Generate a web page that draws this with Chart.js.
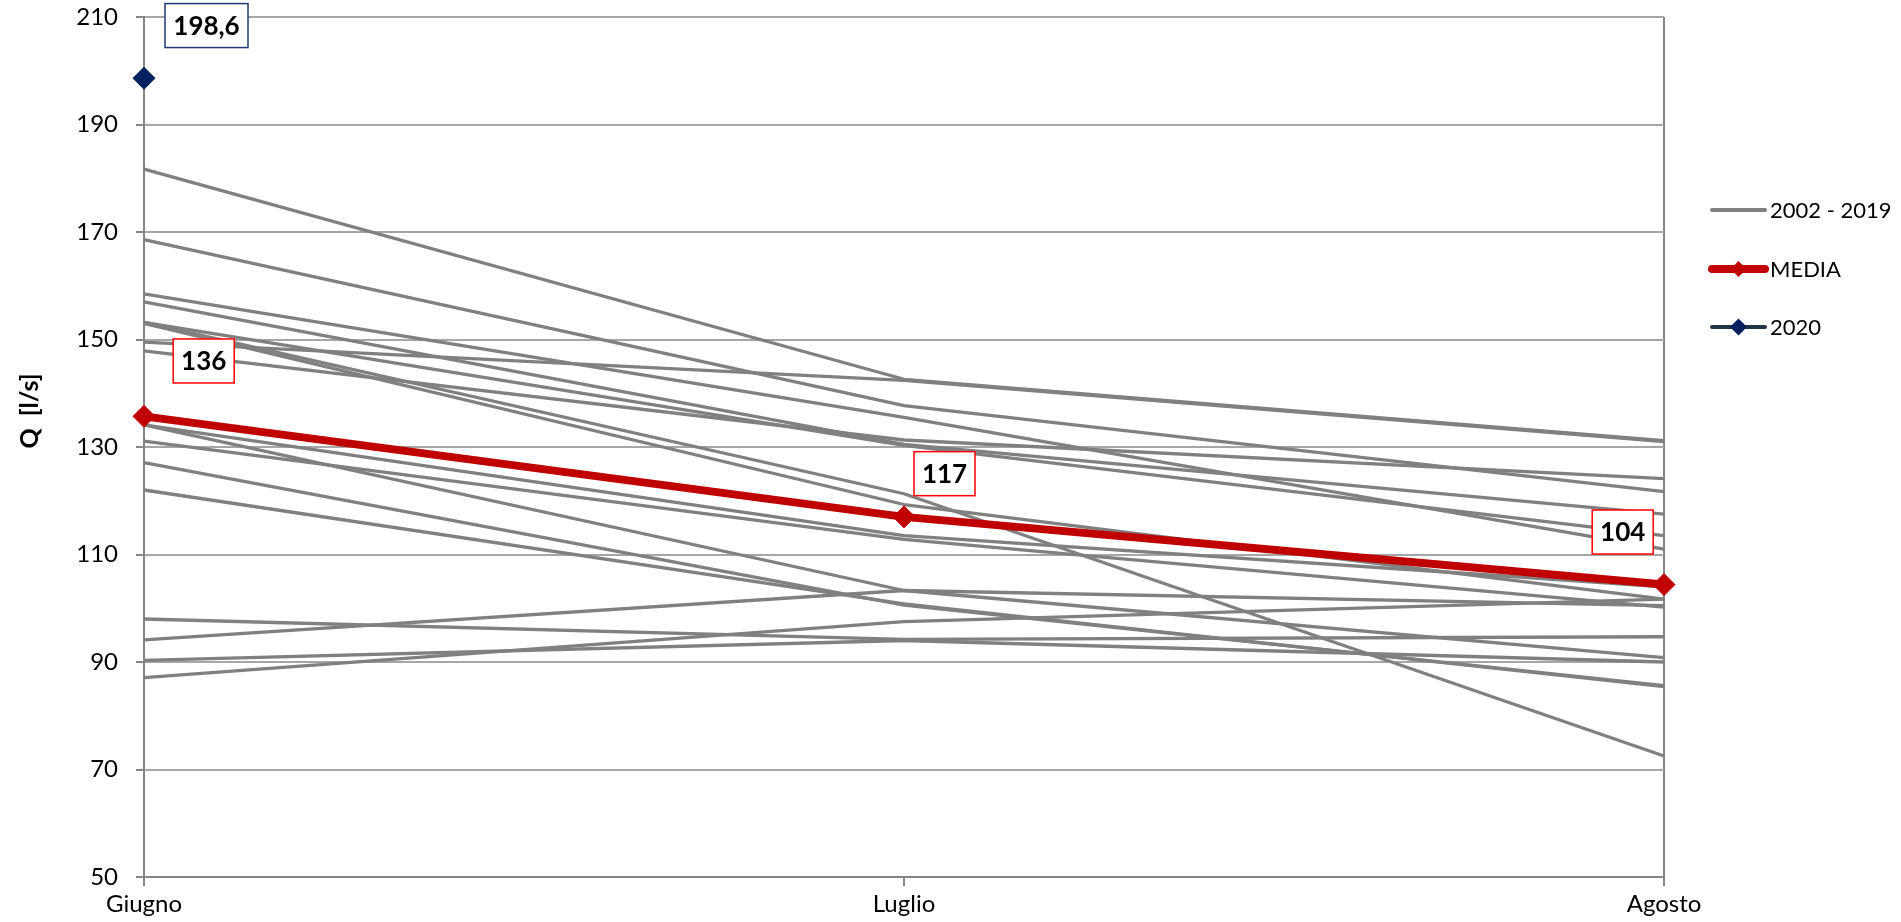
<!DOCTYPE html>
<html>
<head>
<meta charset="utf-8">
<script src="https://cdn.jsdelivr.net/npm/chart.js@4/dist/chart.umd.min.js"></script>
<style>
html,body{margin:0;padding:0;background:#fff;}
#wrap{width:1901px;height:922px;position:relative;}
</style>
</head>
<body>
<div id="wrap"><canvas id="c" width="1901" height="922"></canvas></div>
<script>
// ---- DATA ----
const categories = ['Giugno', 'Luglio', 'Agosto'];
const yTicks = [50, 70, 90, 110, 130, 150, 170, 190, 210];

// 2002 - 2019 (one series per year)
const serie01 = [181.7, 142.6, 131.2];
const serie02 = [149.5, 142.4, 131.0];
const serie03 = [168.6, 137.7, 121.7];
const serie04 = [147.9, 131.3, 124.1];
const serie05 = [158.5, 135.5, 111.0];
const serie06 = [157.0, 130.5, 117.5];
const serie07 = [153.2, 130.3, 113.5];
const serie08 = [153.2, 121.3, 72.5];
const serie09 = [153.0, 119.3, 101.7];
const serie10 = [134.1, 113.5, 104.0];
const serie11 = [131.1, 112.8, 100.2];
const serie12 = [134.1, 103.3, 90.8];
const serie13 = [94.1, 103.3, 100.5];
const serie14 = [127.1, 100.6, 85.6];
const serie15 = [122.0, 100.8, 85.4];
const serie16 = [87.1, 97.5, 101.7];
const serie17 = [98.0, 94.2, 94.7];
const serie18 = [90.3, 94.0, 90.0];
const storico = [serie01, serie02, serie03, serie04, serie05, serie06, serie07, serie08, serie09,
                 serie10, serie11, serie12, serie13, serie14, serie15, serie16, serie17, serie18];

const media = [135.7, 117.0, 104.4];
const mediaLabels = ['136', '117', '104'];
const anno2020 = [198.6, null, null];
const label2020 = ['198,6', null, null];

const legendLabels = ['2002 - 2019', 'MEDIA', '2020'];
const yTitle = 'Q  [l/s]';

// ---- CHART ----
const GRAY = '#808080';
const RED = '#c00000';
const NAVY = '#002060';
const AXIS = '#868686';
const GRID = '#a6a6a6';
const FONT = 'Lato';

const datasets = [];
datasets.push({
  label: legendLabels[2], data: anno2020, order: 0,
  borderColor: NAVY, backgroundColor: NAVY, borderWidth: 3,
  pointStyle: 'rectRot', pointRadius: 11, pointBorderWidth: 1, pointBorderColor: NAVY, pointBackgroundColor: NAVY
});
datasets.push({
  label: legendLabels[1], data: media, order: 1,
  borderColor: RED, backgroundColor: RED, borderWidth: 8,
  pointStyle: 'rectRot', pointRadius: 11, pointBorderWidth: 1, pointBorderColor: RED, pointBackgroundColor: RED
});
storico.forEach((d, i) => {
  datasets.push({
    label: legendLabels[0], data: d, order: 2,
    borderColor: GRAY, borderWidth: 3.3, pointRadius: 0, borderJoinStyle: 'round'
  });
});

const boxLabels = {
  id: 'boxLabels',
  afterDatasetsDraw(chart) {
    const ctx = chart.ctx;
    function box(dsIndex, idx, text, dx, dy, w, border) {
      const el = chart.getDatasetMeta(dsIndex).data[idx];
      const cx = el.x + dx, cy = el.y + dy, h = 44;
      ctx.save();
      ctx.fillStyle = '#fff';
      ctx.fillRect(cx - w / 2, cy - h / 2, w, h);
      ctx.strokeStyle = border;
      ctx.lineWidth = 1.5;
      ctx.strokeRect(cx - w / 2, cy - h / 2, w, h);
      ctx.fillStyle = '#000';
      ctx.font = 'bold 26px ' + FONT;
      ctx.textAlign = 'center';
      ctx.textBaseline = 'middle';
      ctx.fillText(text, cx, cy + 1);
      ctx.restore();
    }
    box(0, 0, label2020[0], 62.5, -52.7, 83, '#1f3a78');
    box(1, 0, mediaLabels[0], 59.7, -55.4, 61, '#ff0000');
    box(1, 1, mediaLabels[1], 40.5, -43.2, 61, '#ff0000');
    box(1, 2, mediaLabels[2], -41.3, -52.6, 61, '#ff0000');
  }
};

const sideLegend = {
  id: 'sideLegend',
  afterDraw(chart) {
    const ctx = chart.ctx;
    const x0 = 1712, x1 = 1765, tx = 1770;
    const rows = [210, 269, 327];
    ctx.save();
    ctx.lineCap = 'round';
    ctx.strokeStyle = GRAY; ctx.lineWidth = 4;
    ctx.beginPath(); ctx.moveTo(x0, rows[0]); ctx.lineTo(x1, rows[0]); ctx.stroke();
    ctx.strokeStyle = RED; ctx.lineWidth = 8;
    ctx.beginPath(); ctx.moveTo(x0, rows[1]); ctx.lineTo(x1, rows[1]); ctx.stroke();
    diamond(ctx, (x0 + x1) / 2, rows[1], 8, RED);
    ctx.strokeStyle = '#243447'; ctx.lineWidth = 4;
    ctx.beginPath(); ctx.moveTo(x0, rows[2]); ctx.lineTo(x1, rows[2]); ctx.stroke();
    diamond(ctx, (x0 + x1) / 2, rows[2], 8.5, NAVY);
    ctx.fillStyle = '#000';
    ctx.font = '22px ' + FONT;
    ctx.textAlign = 'left';
    ctx.textBaseline = 'middle';
    legendLabels.forEach((t, i) => ctx.fillText(t, tx, rows[i] + 1));
    ctx.save();
    ctx.translate(30, 411);
    ctx.rotate(-Math.PI / 2);
    ctx.font = 'bold 25px ' + FONT;
    ctx.textAlign = 'center';
    ctx.textBaseline = 'middle';
    ctx.fillText(yTitle, 0, 0);
    ctx.restore();
    ctx.restore();
  }
};
function diamond(ctx, x, y, r, color) {
  ctx.save();
  ctx.fillStyle = color;
  ctx.beginPath();
  ctx.moveTo(x, y - r); ctx.lineTo(x + r, y); ctx.lineTo(x, y + r); ctx.lineTo(x - r, y);
  ctx.closePath(); ctx.fill();
  ctx.restore();
}

new Chart(document.getElementById('c'), {
  type: 'line',
  data: { labels: categories, datasets },
  plugins: [boxLabels, sideLegend],
  options: {
    responsive: false,
    animation: false,
    devicePixelRatio: 1,
    layout: { padding: { left: 0, top: 17, right: 237, bottom: 0 } },
    plugins: { legend: { display: false }, tooltip: { enabled: false }, title: { display: false } },
    elements: { line: { tension: 0 } },
    scales: {
      x: {
        type: 'category',
        offset: false,
        grid: {
          drawOnChartArea: true,
          color: (c) => (c.index === 1 ? 'rgba(0,0,0,0)' : AXIS),
          lineWidth: 2,
          tickLength: 9,
          tickColor: AXIS,
          tickWidth: 2
        },
        border: { color: AXIS, width: 2 },
        ticks: { font: { family: FONT, size: 24 }, color: '#000', padding: 4, maxRotation: 0, autoSkip: false },
        afterFit: (s) => { s.height = 45; s.paddingLeft = 0; s.paddingRight = 0; }
      },
      y: {
        min: yTicks[0],
        max: yTicks[yTicks.length - 1],
        afterBuildTicks: (s) => { s.ticks = yTicks.map(v => ({ value: v })); },
        grid: { color: GRID, lineWidth: 2, tickLength: 8, tickColor: AXIS, tickWidth: 2 },
        border: { color: AXIS, width: 2 },
        ticks: { font: { family: FONT, size: 24 }, color: '#000', padding: 18 },
        afterFit: (s) => { s.width = 144; s.paddingTop = 0; s.paddingBottom = 0; }
      }
    }
  }
});
</script>
</body>
</html>
